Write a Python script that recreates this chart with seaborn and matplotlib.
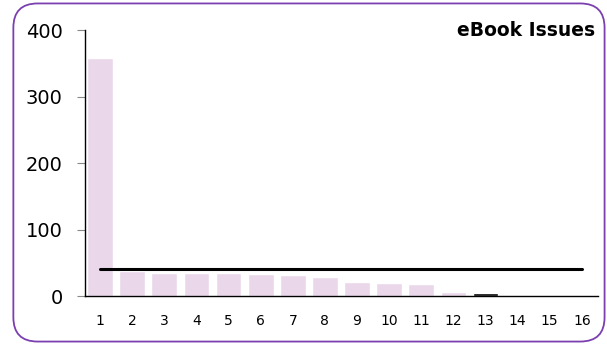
import numpy as np
import pandas as pd
import matplotlib
matplotlib.use("Agg")
import matplotlib.pyplot as plt
from matplotlib.patches import FancyBboxPatch
import seaborn as sns

# values
issues = [str(i) for i in range(1, 17)]
counts = [359, 37, 35, 34, 34, 33, 32, 28, 21, 19.5, 18.5, 6, 5, 0, 0, 0]
bar_colors = ["#ead8ea"] * 12 + ["#000000"] + ["#ead8ea"] * 3

df = pd.DataFrame({"issue": issues, "count": counts})
df["avg"] = np.mean(counts)

sns.set_style("white")
plt.rcParams["font.family"] = ["DejaVu Sans"]
plt.rcParams["text.color"] = "black"
plt.rcParams["xtick.labelcolor"] = "black"
plt.rcParams["ytick.labelcolor"] = "black"

fig = plt.figure(figsize=(6.07, 3.45), dpi=100)
ax = fig.add_axes([0.140, 0.142, 0.845, 0.770])

sns.barplot(data=df, x="issue", y="count", hue="issue", palette=bar_colors,
            width=0.8, legend=False, saturation=1, ax=ax)
sns.pointplot(data=df, x="issue", y="avg", color="black", markersize=0,
              linewidth=2.2, errorbar=None, ax=ax)

ax.set_xlim(-0.47, 15.5)
ax.set_ylim(0, 400)
ax.set_yticks([0, 100, 200, 300, 400])
ax.set_xlabel("")
ax.set_ylabel("")
for s in ["top", "right"]:
    ax.spines[s].set_visible(False)
ax.spines["left"].set_color("black")
ax.spines["bottom"].set_color("black")
ax.spines["left"].set_linewidth(1)
ax.spines["bottom"].set_linewidth(1)
ax.tick_params(axis="y", length=6, color="#888888", labelsize=14, pad=10, left=True)
ax.tick_params(axis="x", length=0, labelsize=10, pad=13)

fig.text(0.981, 0.912, "eBook Issues", ha="right", va="center",
         fontsize=13.5, fontweight="bold", color="black")

border = FancyBboxPatch((0.022, 0.01), 0.974, 0.98,
                        boxstyle="round,pad=0,rounding_size=0.04",
                        transform=fig.transFigure, fill=False,
                        edgecolor="#7b3fb0", linewidth=1.3,
                        mutation_aspect=607 / 345)
fig.patches.append(border)

fig.savefig("out.png", dpi=100)
